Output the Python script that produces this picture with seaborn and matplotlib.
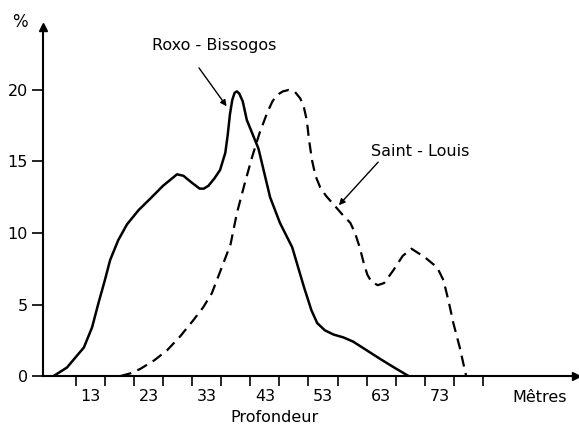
import matplotlib
matplotlib.use("Agg")
import matplotlib.pyplot as plt
import seaborn as sns
import pandas as pd

# Roxo - Bissogos (solid)
roxo_depth = [6.7, 9.0, 11.9, 13.3, 14.4, 15.5, 16.4, 17.8, 19.3, 21.3, 23.3, 25.5, 27.0, 27.9,
              29.0, 30.5, 31.8, 32.5, 33.3, 34.3, 35.3, 36.2, 36.6, 37.0, 37.4, 37.8, 38.2, 38.6,
              39.2, 39.9, 40.9, 41.9, 43.9, 45.6, 47.7, 49.7, 51.0, 52.0, 53.3, 54.8, 56.5, 58.2,
              60.5, 62.8, 65.2, 67.7]
roxo_pct = [0, 0.6, 2.0, 3.4, 5.1, 6.7, 8.1, 9.5, 10.6, 11.6, 12.4, 13.3, 13.8, 14.1,
            14.0, 13.5, 13.1, 13.1, 13.3, 13.8, 14.4, 15.6, 16.8, 18.3, 19.3, 19.8, 19.9, 19.75,
            19.2, 17.9, 16.9, 15.9, 12.5, 10.7, 9.0, 6.25, 4.6, 3.7, 3.2, 2.9, 2.7, 2.4,
            1.8, 1.2, 0.6, 0]

# Saint - Louis (dashed)
stl_depth = [18.2, 20.0, 21.6, 24.0, 26.2, 28.5, 30.7, 32.4, 33.9, 35.6, 37.1, 38.2, 39.5, 40.8,
             42.1, 43.4, 44.3, 45.1, 46.1, 47.1, 48.2, 49.1, 49.7, 50.2, 50.6, 51.1, 51.7, 52.5,
             53.5, 54.8, 56.3, 57.7, 58.5, 59.3, 60.0, 60.6, 61.3, 62.4, 63.5, 65.1, 66.7, 68.2,
             70.5, 72.6, 73.7, 74.6, 75.4, 76.5, 77.6]
stl_pct = [0, 0.2, 0.5, 1.1, 1.8, 2.8, 3.9, 4.8, 5.8, 7.6, 9.2, 11.4, 13.4, 15.3,
           17.0, 18.4, 19.2, 19.65, 19.9, 20.0, 19.85, 19.4, 18.8, 17.9, 16.5, 15.1, 14.0, 13.2,
           12.6, 12.0, 11.3, 10.7, 10.0, 9.0, 7.9, 7.1, 6.6, 6.35, 6.5, 7.4, 8.4, 8.9,
           8.3, 7.6, 6.7, 5.2, 3.7, 2.0, 0]

x_labels = [13, 23, 33, 43, 53, 63, 73]
x_ticks = [10.5 + 5 * i for i in range(15)]
y_ticks = [0, 5, 10, 15, 20]

sns.set_style("ticks")
plt.rcParams['font.family'] = ['DejaVu Sans']
plt.rcParams['text.color'] = 'black'
plt.rcParams['xtick.color'] = 'black'
plt.rcParams['ytick.color'] = 'black'
plt.rcParams['axes.edgecolor'] = 'black'

fig = plt.figure(figsize=(5.79, 4.33), dpi=100)
ax = fig.add_axes([0.0743, 0.1316, 0.9207, 0.806])

df_r = pd.DataFrame({"depth": roxo_depth, "pct": roxo_pct})
df_s = pd.DataFrame({"depth": stl_depth, "pct": stl_pct})
sns.lineplot(data=df_r, x="depth", y="pct", sort=False, color="black", lw=1.8, ax=ax)
sns.lineplot(data=df_s, x="depth", y="pct", sort=False, color="black", lw=1.6, ax=ax,
             linestyle=(0, (5, 3)))

ax.set_xlim(4.87, 96.5)
ax.set_ylim(0, 24.4)
for s in ["top", "right"]:
    ax.spines[s].set_visible(False)
for s in ["left", "bottom"]:
    ax.spines[s].set_linewidth(1.5)
    ax.spines[s].set_color("black")

ax.set_xticks(x_ticks)
ax.set_xticklabels([])
ax.set_xticks(x_labels, minor=True)
ax.set_xticklabels([str(v) for v in x_labels], minor=True, fontsize=11.5)
ax.tick_params(axis="x", which="major", direction="out", length=7, width=1.2)
ax.tick_params(axis="x", which="minor", length=0, pad=9)
ax.set_yticks(y_ticks)
ax.set_yticklabels([str(v) for v in y_ticks], fontsize=11.5)
ax.tick_params(axis="y", direction="out", length=8, width=1.2, pad=3)
ax.set_xlabel("")
ax.set_ylabel("")

# axis arrows
ax.plot(1, 0, ">", color="black", ms=6, transform=ax.transAxes, clip_on=False)
ax.plot(0, 1, "^", color="black", ms=6, transform=ax.transAxes, clip_on=False)

fig.text(20 / 579, 1 - 22 / 433, "%", fontsize=12, ha="center", va="center")
fig.text(540 / 579, 1 - 397 / 433, "Mêtres", fontsize=11.5, ha="center", va="center")
fig.text(274 / 579, 1 - 418 / 433, "Profondeur", fontsize=11.5, ha="center", va="center")

ax.text(34.3, 23.1, "Roxo - Bissogos", fontsize=11.5, ha="center", va="center")
ax.annotate("", xy=(36.7, 18.7), xytext=(31.4, 21.7),
            arrowprops=dict(arrowstyle="-|>", color="black", lw=1.0, mutation_scale=9))
ax.text(69.7, 15.7, "Saint - Louis", fontsize=11.5, ha="center", va="center")
ax.annotate("", xy=(55.4, 11.8), xytext=(62.8, 15.1),
            arrowprops=dict(arrowstyle="-|>", color="black", lw=1.0, mutation_scale=9))

fig.savefig("out.png", dpi=100)
